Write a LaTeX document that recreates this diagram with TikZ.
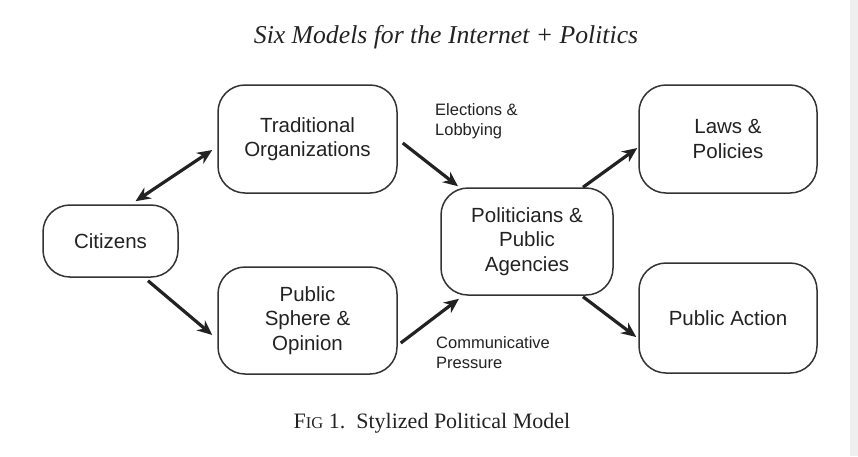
\documentclass[tikz,border=0pt]{standalone}
\usepackage{fontspec}
\setmainfont{Liberation Serif}
\newfontfamily\boxfont{Liberation Sans}
\usetikzlibrary{arrows.meta}
\definecolor{ink}{HTML}{222222}
\definecolor{edge}{HTML}{333333}
\definecolor{strip}{HTML}{EFEFEF}
\begin{document}
\begin{tikzpicture}[x=1pt,y=-1pt,>={Stealth[length=15pt,width=13pt]},
		box/.style={draw=edge,line width=1.5pt,rounded corners=27pt,inner sep=0pt,align=center,text=ink,font=\boxfont\fontsize{20.5}{24.5}\selectfont},
		lab/.style={anchor=west,align=left,inner sep=0pt,text=ink,font=\boxfont\fontsize{16.5}{20}\selectfont},
		link/.style={->,line width=3.2pt,ink}]
			\useasboundingbox (0,0) rectangle (858,456);
			\fill[strip] (850,0) rectangle (858,456);
			\node[anchor=base,text=ink,font=\itshape\fontsize{25.7}{30}\selectfont] (title) at (446,43) {Six Models for the Internet + Politics};
			% boxes
			\node[box,minimum width=135pt,minimum height=72pt] (cit) at (110.5,241) {Citizens};
			\node[box,minimum width=179pt,minimum height=108pt] (trad) at (307.5,139) {Traditional\\Organizations};
			\node[box,minimum width=179pt,minimum height=107pt] (pub) at (307.5,320.5) {Public\\Sphere \&\\Opinion};
			\node[box,minimum width=172pt,minimum height=107pt] (pol) at (527,241.5) {Politicians \&\\Public\\Agencies};
			\node[box,minimum width=178pt,minimum height=108pt] (laws) at (728,139) {Laws \&\\Policies};
			\node[box,minimum width=178pt,minimum height=110pt] (act) at (728,318) {Public Action};
			% labels
			\node[lab] (elect) at (435,121) {Elections \&\\Lobbying};
			\node[lab] (press) at (436,353) {Communicative\\Pressure};
			% arrows
			\draw[link,<->] ([xshift=25pt,yshift=3pt]cit.north)--([xshift=-5pt,yshift=-11pt]trad.west);
			\draw[link] ([xshift=37.5pt,yshift=-3pt]cit.south)--([xshift=-5pt,yshift=-14.5pt]pub.west);
			\draw[link] ([xshift=5pt,yshift=-4pt]trad.east)--([xshift=-69pt,yshift=1pt]pol.north);
			\draw[link] ([xshift=3pt,yshift=-22.5pt]pub.east)--([xshift=-68pt,yshift=-3pt]pol.south);
			\draw[link] ([xshift=56pt]pol.north)--([xshift=-1pt,yshift=-9pt]laws.west);
			\draw[link] ([xshift=56pt,yshift=-1pt]pol.south)--([xshift=-2pt,yshift=-19pt]act.west);
			\node[anchor=base,text=ink,font=\fontsize{22}{26}\selectfont] (cap) at (432,428) {F{\fontsize{16.5}{20}\selectfont IG} 1.\ \ Stylized Political Model};
		\end{tikzpicture}
\end{document}
